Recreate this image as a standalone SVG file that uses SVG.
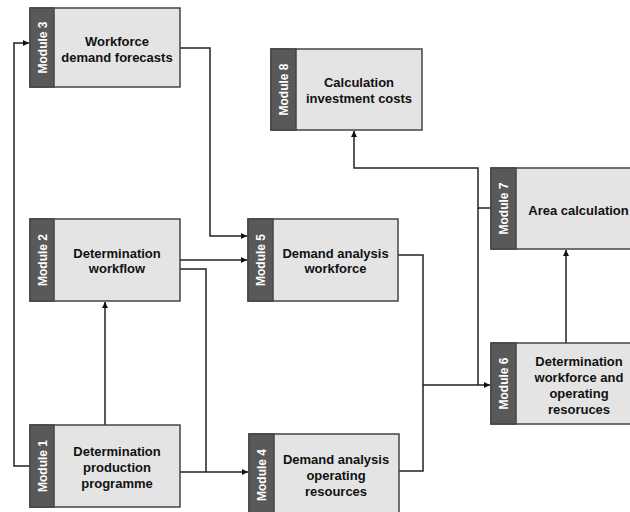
<svg xmlns="http://www.w3.org/2000/svg" width="630" height="512" viewBox="0 0 630 512">
<defs>
<style>
.box{fill:#e4e4e4;stroke:#444;stroke-width:1.5}
.strip{fill:#595959;stroke:#444;stroke-width:1.5}
.t{font-family:"Liberation Sans",Arial,sans-serif;font-weight:bold;font-size:13px;fill:#111;text-anchor:middle}
.m{font-family:"Liberation Sans",Arial,sans-serif;font-weight:bold;font-size:12px;fill:#fff;text-anchor:middle}
.c{fill:none;stroke:#222;stroke-width:1.5}
</style>
<marker id="ah" viewBox="0 0 10 10" refX="10" refY="5" markerWidth="6" markerHeight="6" orient="auto" markerUnits="userSpaceOnUse"><path d="M0,0 L10,5 L0,10 z" fill="#111"/></marker>
</defs>
<rect width="630" height="512" fill="#fff"/>
<g id="connectors">
<path class="c" d="M30,466 H14 V43 H29" marker-end="url(#ah)"/>
<path class="c" d="M105,425 V302" marker-end="url(#ah)"/>
<path class="c" d="M180,472 H248" marker-end="url(#ah)"/>
<path class="c" d="M180,269 H206 V472"/>
<path class="c" d="M180,260 H247" marker-end="url(#ah)"/>
<path class="c" d="M180,48 H210 V236 H247" marker-end="url(#ah)"/>
<path class="c" d="M398,255 H423 V385 H490" marker-end="url(#ah)"/>
<path class="c" d="M399,471 H423 V385"/>
<path class="c" d="M566,343 V250" marker-end="url(#ah)"/>
<path class="c" d="M491,208 H478 V168 H354 V131" marker-end="url(#ah)"/>
<path class="c" d="M478,208 V385"/>
</g>
<g id="module3">
<rect class="box" x="30" y="8" width="150" height="79"/>
<rect class="strip" x="30" y="8" width="24" height="79"/>
<text class="m" transform="translate(46.5,47.5) rotate(-90)">Module 3</text>
<text class="t" x="117" y="46">Workforce</text>
<text class="t" x="117" y="62">demand forecasts</text>
</g>
<g id="module8">
<rect class="box" x="271" y="49" width="151" height="81"/>
<rect class="strip" x="271" y="49" width="25" height="81"/>
<text class="m" transform="translate(288,89.5) rotate(-90)">Module 8</text>
<text class="t" x="359" y="87">Calculation</text>
<text class="t" x="359" y="103">investment costs</text>
</g>
<g id="module2">
<rect class="box" x="30" y="219" width="150" height="82"/>
<rect class="strip" x="30" y="219" width="24" height="82"/>
<text class="m" transform="translate(46.5,260) rotate(-90)">Module 2</text>
<text class="t" x="117" y="258">Determination</text>
<text class="t" x="117" y="273">workflow</text>
</g>
<g id="module5">
<rect class="box" x="248" y="219" width="150" height="82"/>
<rect class="strip" x="248" y="219" width="25" height="82"/>
<text class="m" transform="translate(265,260) rotate(-90)">Module 5</text>
<text class="t" x="335.5" y="258">Demand analysis</text>
<text class="t" x="335.5" y="273">workforce</text>
</g>
<g id="module1">
<rect class="box" x="30" y="425" width="150" height="82"/>
<rect class="strip" x="30" y="425" width="24" height="82"/>
<text class="m" transform="translate(46.5,466) rotate(-90)">Module 1</text>
<text class="t" x="117" y="456">Determination</text>
<text class="t" x="117" y="472">production</text>
<text class="t" x="117" y="488">programme</text>
</g>
<g id="module4">
<rect class="box" x="249" y="434" width="150" height="82"/>
<rect class="strip" x="249" y="434" width="25" height="82"/>
<text class="m" transform="translate(266,475) rotate(-90)">Module 4</text>
<text class="t" x="336" y="464">Demand analysis</text>
<text class="t" x="336" y="480">operating</text>
<text class="t" x="336" y="496">resources</text>
</g>
<g id="module7">
<rect class="box" x="491" y="168" width="150" height="81"/>
<rect class="strip" x="491" y="168" width="25" height="81"/>
<text class="m" transform="translate(508,208.5) rotate(-90)">Module 7</text>
<text class="t" x="578.5" y="215">Area calculation</text>
</g>
<g id="module6">
<rect class="box" x="491" y="343" width="150" height="81"/>
<rect class="strip" x="491" y="343" width="25" height="81"/>
<text class="m" transform="translate(508,383.5) rotate(-90)">Module 6</text>
<text class="t" x="579" y="366">Determination</text>
<text class="t" x="579" y="382">workforce and</text>
<text class="t" x="579" y="398">operating</text>
<text class="t" x="579" y="414">resoruces</text>
</g>
</svg>
